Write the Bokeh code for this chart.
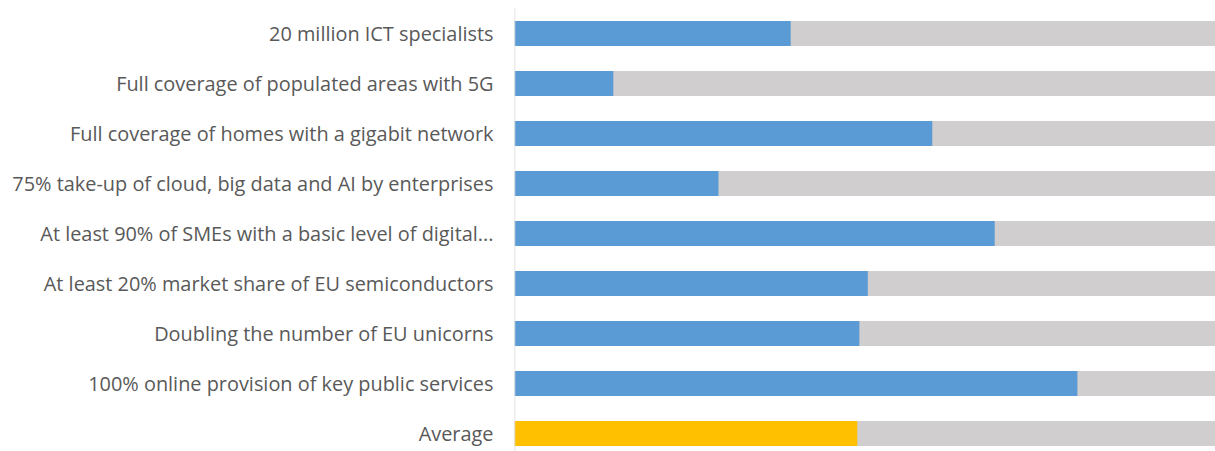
from bokeh.plotting import figure
from bokeh.models import Range1d, ColumnDataSource, FixedTicker
from bokeh.embed import file_html
from bokeh.resources import INLINE

categories = [
    "20 million ICT specialists",
    "Full coverage of populated areas with 5G",
    "Full coverage of homes with a gigabit network",
    "75% take-up of cloud, big data and AI by enterprises",
    "At least 90% of SMEs with a basic level of digital...",
    "At least 20% market share of EU semiconductors",
    "Doubling the number of EU unicorns",
    "100% online provision of key public services",
    "Average",
]
progress = [39.4, 14.1, 59.6, 29.1, 68.5, 50.4, 49.2, 80.3, 48.9]
target = [100] * len(categories)

idx = list(range(len(categories)))
bar_colors = ["#5B9BD5"] * (len(categories) - 1) + ["#FFC000"]

src = ColumnDataSource(dict(
    y=idx, progress=progress, target=target, color=bar_colors,
))

p = figure(width=1215, height=451, output_backend="svg", toolbar_location=None,
           x_range=Range1d(0, 100), y_range=Range1d(8.36, -0.66),
           min_border_left=514, min_border_right=0, min_border_top=0, min_border_bottom=0)

p.hbar(y="y", left=0, right="target", height=0.5, source=src,
       fill_color="#D0CECE", line_color=None)
p.hbar(y="y", left=0, right="progress", height=0.5, source=src,
       fill_color="color", line_color=None)

# vertical category axis line
p.segment(x0=[0], y0=[-0.5], x1=[0], y1=[len(categories) - 0.5 + 0.2],
          line_color="#D9D9D9", line_width=1.5)

p.xaxis.visible = False
p.xgrid.visible = False
p.ygrid.visible = False
p.outline_line_color = None

ya = p.yaxis[0]
ya.ticker = FixedTicker(ticks=idx)
ya.major_label_overrides = {i: c for i, c in zip(idx, categories)}
ya.axis_line_color = None
ya.major_tick_line_color = None
ya.minor_tick_line_color = None
ya.major_label_standoff = 15
ya.major_label_text_font = "Open Sans"
ya.major_label_text_font_size = "19.9px"
ya.major_label_text_color = "#595959"

open("out.html", "w").write(file_html(p, INLINE))
